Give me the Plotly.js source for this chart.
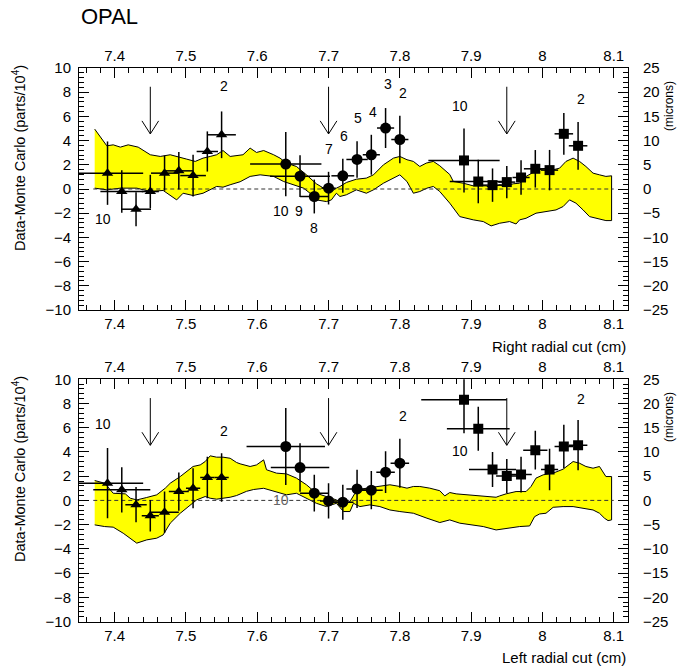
<!DOCTYPE html>
<html>
<head>
<meta charset="utf-8">
<script src="https://cdn.plot.ly/plotly-3.0.1.min.js"></script>
<style>html,body{margin:0;padding:0;background:#fff;}#chart{width:696px;height:669px;}</style>
</head>
<body>
<div id="chart"></div>
<script>
// ---------- data ----------
const xTicks = [7.4, 7.5, 7.6, 7.7, 7.8, 7.9, 8.0, 8.1];
const triX  = [7.39, 7.41, 7.43, 7.45, 7.47, 7.49, 7.51, 7.53, 7.55];
const circX = [7.64, 7.66, 7.68, 7.70, 7.72, 7.74, 7.76, 7.78, 7.80];
const sqX   = [7.89, 7.91, 7.93, 7.95, 7.97, 7.99, 8.01, 8.03, 8.05];

// top panel (right radial cut)
const topTriY  = [1.31, -0.21, -1.67, -0.21, 1.31, 1.50, 1.11, 3.10, 4.48];
const topTriEy = [2.62, 1.75, 1.40, 1.38, 1.45, 1.55, 1.72, 1.66, 1.93];
const topTriEx = [0.05, 0.03, 0.021, 0.012, 0.019, 0.02, 0.018, 0.015, 0.02];
const topCircY  = [2.06, 1.06, -0.62, 0.07, 1.09, 2.44, 2.83, 5.04, 4.09];
const topCircEy = [2.65, 1.72, 1.40, 1.35, 1.40, 1.50, 1.65, 1.65, 1.96];
const topCircEx = [0.05, 0.042, 0.02, 0.01, 0.016, 0.015, 0.012, 0.012, 0.012];
const topSqY  = [2.36, 0.62, 0.32, 0.57, 0.95, 1.67, 1.56, 4.56, 3.57];
const topSqEy = [2.65, 1.80, 1.38, 1.34, 1.42, 1.55, 1.67, 1.72, 1.97];
const topSqEx = [0.05, 0.04, 0.015, 0.012, 0.012, 0.016, 0.012, 0.013, 0.013];

// bottom panel (left radial cut)
const botTriY  = [1.42, 0.87, -0.35, -1.26, -0.98, 0.73, 1.00, 1.89, 1.89];
const botTriEy = [2.90, 1.87, 1.45, 1.30, 1.72, 1.58, 1.65, 1.72, 2.00];
const botTriEx = [0.05, 0.04, 0.015, 0.012, 0.02, 0.014, 0.01, 0.01, 0.01];
const botCircY  = [4.45, 2.71, 0.60, -0.04, -0.15, 0.95, 0.84, 2.33, 3.07];
const botCircEy = [3.17, 2.00, 1.52, 1.45, 1.45, 1.58, 1.58, 1.72, 2.02];
const botCircEx = [0.055, 0.041, 0.02, 0.012, 0.015, 0.015, 0.016, 0.013, 0.013];
const botSqY  = [8.31, 5.91, 2.55, 2.02, 2.13, 4.15, 2.55, 4.45, 4.56];
const botSqEy = [2.76, 1.82, 1.45, 1.40, 1.47, 1.60, 1.72, 1.79, 2.07];
const botSqEx = [0.06, 0.044, 0.033, 0.015, 0.015, 0.017, 0.012, 0.013, 0.013];

// Monte Carlo bands
const topUpX = [7.372,7.389,7.398,7.408,7.419,7.433,7.450,7.464,7.478,7.492,7.501,7.513,7.524,7.534,7.543,7.552,7.562,7.580,7.590,7.599,7.609,7.623,7.632,7.641,7.655,7.669,7.683,7.697,7.704,7.711,7.716,7.725,7.739,7.753,7.763,7.777,7.791,7.800,7.810,7.819,7.828,7.837,7.847,7.856,7.870,7.875,7.889,7.903,7.921,7.928,7.940,7.949,7.959,7.968,7.977,7.987,7.996,8.005,8.015,8.024,8.033,8.043,8.052,8.061,8.071,8.080,8.089,8.097];
const topUp  = [4.95,3.57,3.65,3.46,3.65,3.46,2.83,2.69,2.83,2.64,2.47,2.28,2.55,2.69,2.83,3.18,2.69,2.83,3.38,3.02,3.18,2.83,2.55,2.14,1.86,1.17,0.43,-0.07,-0.21,0.07,0.21,0.54,0.81,0.90,1.17,2.00,2.55,2.69,2.42,2.28,1.86,2.14,2.28,1.92,1.20,0.62,0.48,0.26,0.26,0.07,0.35,0.26,0.43,0.48,1.04,1.37,1.59,1.72,1.59,1.72,2.28,2.55,2.28,1.86,1.31,1.17,1.04,1.09];
const topLoX = [7.372,7.389,7.408,7.431,7.450,7.468,7.487,7.496,7.510,7.524,7.543,7.552,7.562,7.576,7.590,7.604,7.623,7.637,7.651,7.665,7.674,7.683,7.697,7.704,7.711,7.716,7.725,7.739,7.753,7.763,7.777,7.791,7.800,7.810,7.819,7.828,7.838,7.847,7.856,7.870,7.884,7.903,7.917,7.928,7.940,7.954,7.963,7.968,7.977,7.991,8.005,8.019,8.029,8.038,8.047,8.057,8.066,8.080,8.089,8.097];
const topLo  = [0.07,-0.07,0.07,0.07,-0.21,-0.12,-0.90,-0.35,-0.54,-0.35,0.21,0.15,0.35,0.60,1.04,1.17,1.04,0.62,0.35,0.07,-0.35,-0.90,-1.04,-0.90,-0.35,-0.62,-0.48,-0.07,-0.35,-0.07,0.48,0.90,1.17,0.62,-0.35,-0.21,0.07,0.21,-0.21,-1.17,-2.28,-2.55,-2.69,-3.05,-2.83,-2.69,-2.89,-2.55,-2.42,-2.00,-1.86,-1.73,-1.45,-0.90,-1.17,-1.73,-2.28,-2.50,-2.61,-2.61];

const botUpX = [7.372,7.386,7.398,7.415,7.422,7.431,7.445,7.459,7.471,7.478,7.492,7.501,7.510,7.520,7.527,7.534,7.543,7.552,7.562,7.571,7.576,7.590,7.599,7.609,7.613,7.627,7.641,7.655,7.669,7.683,7.697,7.711,7.721,7.730,7.737,7.744,7.753,7.772,7.786,7.800,7.810,7.819,7.828,7.842,7.856,7.863,7.870,7.879,7.898,7.917,7.935,7.940,7.949,7.963,7.977,7.984,7.991,8.001,8.015,8.029,8.043,8.052,8.061,8.071,8.080,8.089,8.097];
const botUp  = [1.64,1.42,0.59,0.54,0.18,0.04,0.24,0.46,1.01,1.42,1.97,2.39,2.80,2.93,3.21,3.68,3.57,3.57,3.48,3.13,3.02,2.80,2.93,3.35,2.53,2.25,2.19,1.84,1.29,0.59,0.32,0.04,-0.24,-0.10,0.59,0.87,1.01,1.15,1.29,1.15,1.01,1.15,1.15,1.01,0.80,0.37,0.65,0.54,0.46,0.37,0.26,0.37,0.54,0.73,0.73,1.15,1.84,2.11,2.25,2.58,3.21,3.07,2.80,2.66,2.80,1.97,1.97];
const botLoX = [7.372,7.386,7.398,7.412,7.431,7.445,7.459,7.468,7.478,7.492,7.506,7.515,7.527,7.534,7.543,7.552,7.562,7.571,7.585,7.595,7.609,7.623,7.641,7.655,7.669,7.683,7.697,7.711,7.721,7.730,7.735,7.744,7.758,7.772,7.786,7.800,7.819,7.838,7.856,7.863,7.870,7.884,7.898,7.917,7.935,7.949,7.968,7.982,7.989,7.996,8.005,8.015,8.029,8.043,8.057,8.071,8.080,8.087,8.092,8.097];
const botLo  = [-2.02,-2.16,-2.21,-2.71,-3.53,-3.26,-3.12,-2.85,-1.88,-1.06,-0.37,0.04,0.32,0.18,0.10,0.18,0.26,0.40,0.75,0.90,1.00,0.73,0.46,0.59,0.18,-0.24,-0.51,-0.24,-0.92,-0.92,-0.24,-0.51,-0.37,-0.51,-0.79,-0.92,-1.06,-1.47,-1.83,-1.74,-1.61,-1.88,-2.02,-2.16,-2.44,-2.30,-2.16,-2.11,-1.34,-1.12,-1.06,-0.57,-0.51,-0.51,-0.65,-0.79,-1.06,-1.47,-1.67,-1.61];

const zeroX = [7.37, 8.10];
const zeroY = [0, 0];

// arrows marking the cut positions
const arrowX = [7.45, 7.70, 7.95];
const arrowTop = 8.45, arrowTip = 4.55, arrowHeadLen = 1.08, arrowHalfW = 0.0117;

// layer labels
const topLabText = ['10','2','10','9','8','7','6','5','4','3','2','10','2'];
const topLabX = [7.384,7.554,7.634,7.659,7.680,7.700,7.721,7.742,7.763,7.783,7.804,7.884,8.054];
const topLabY = [-2.50,8.48,-1.78,-1.78,-3.24,3.30,4.40,5.86,6.36,8.70,7.93,6.88,7.44];
const botLabText = ['10','2','10','2','10','2'];
const botLabX = [7.384,7.553,7.634,7.804,7.884,8.054];
const botLabY = [6.32,5.77,0.04,6.93,4.09,8.39];
const botLabColor = ['#000','#000','#666','#000','#000','#000'];

// ---------- drawing ----------
const FONT = 'Liberation Sans, Arial, Helvetica, sans-serif';
function band(ux, uy, lx, ly, xa, ya) {
  return {x: ux.concat(lx.slice().reverse()), y: uy.concat(ly.slice().reverse()),
    xaxis: xa, yaxis: ya, mode: 'lines', fill: 'toself', fillcolor: '#ffff00',
    line: {color: '#000', width: 1}, hoverinfo: 'skip'};
}
function pts(x, y, ex, ey, sym, size, xa, ya, clip) {
  return {x: x, y: y, xaxis: xa, yaxis: ya, mode: 'markers', cliponaxis: clip,
    marker: {symbol: sym, size: size, color: '#000'},
    error_x: {type: 'data', array: ex, color: '#000', thickness: 1.5, width: 0},
    error_y: {type: 'data', array: ey, color: '#000', thickness: 1.5, width: 0}};
}
function zero(xa, ya) {
  return {x: zeroX, y: zeroY, xaxis: xa, yaxis: ya, mode: 'lines',
    line: {color: '#333', width: 1, dash: '4px,3px'}, hoverinfo: 'skip'};
}
const traces = [
  band(topUpX, topUp, topLoX, topLo, 'x', 'y'), zero('x', 'y'),
  pts(triX, topTriY, topTriEx, topTriEy, 'triangle-up', 10, 'x', 'y', false),
  pts(circX, topCircY, topCircEx, topCircEy, 'circle', 11, 'x', 'y', true),
  pts(sqX, topSqY, topSqEx, topSqEy, 'square', 10, 'x', 'y', true),
  band(botUpX, botUp, botLoX, botLo, 'x3', 'y3'), zero('x3', 'y3'),
  pts(triX, botTriY, botTriEx, botTriEy, 'triangle-up', 10, 'x3', 'y3', false),
  pts(circX, botCircY, botCircEx, botCircEy, 'circle', 11, 'x3', 'y3', true),
  pts(sqX, botSqY, botSqEx, botSqEy, 'square', 10, 'x3', 'y3', true),
  {x: [], y: [], xaxis: 'x2', yaxis: 'y2', mode: 'markers'},
  {x: [], y: [], xaxis: 'x4', yaxis: 'y4', mode: 'markers'}
];

const XD = [79/696, 628/696];
const YTOP = [(669-310)/669, (669-68)/669];
const YBOT = [(669-621.5)/669, (669-379.3)/669];
const tickFont = {family: FONT, size: 15, color: '#000'};
function xAxis(anchor, side, overlay) {
  const a = {domain: XD, range: [7.35, 8.12], anchor: anchor, side: side,
    tickmode: 'linear', tick0: 7.4, dtick: 0.1, ticks: 'inside', ticklen: 10, tickwidth: 1,
    tickcolor: '#000', showline: true, linecolor: '#000', linewidth: 1, showgrid: false,
    zeroline: false, tickfont: tickFont, ticklabelstandoff: 0, fixedrange: true,
    minor: {ticks: 'inside', ticklen: 5, tick0: 7.4, dtick: 0.02, tickcolor: '#000', showgrid: false}};
  if (overlay) a.overlaying = overlay;
  return a;
}
function yAxis(domain, anchor, side, overlay, rng, dt, mdt) {
  const a = {domain: domain, range: rng, anchor: anchor, side: side,
    tickmode: 'linear', tick0: 0, dtick: dt, ticks: 'inside', ticklen: 10, tickwidth: 1,
    tickcolor: '#000', showline: true, linecolor: '#000', linewidth: 1, showgrid: false,
    zeroline: false, tickfont: tickFont, fixedrange: true,
    ticklabelstandoff: side === 'left' ? 4 : 11,
    minor: {ticks: 'inside', ticklen: 5, tick0: 0, dtick: mdt, tickcolor: '#000', showgrid: false}};
  if (overlay) a.overlaying = overlay;
  return a;
}

const annotations = [];
function labels(txt, xs, ys, xa, ya, colors) {
  for (let i = 0; i < txt.length; i++) {
    annotations.push({text: txt[i], x: xs[i], y: ys[i], xref: xa, yref: ya, showarrow: false,
      font: {family: FONT, size: 14, color: colors ? colors[i] : '#000'}, xanchor: 'center', yanchor: 'middle'});
  }
}
labels(topLabText, topLabX, topLabY, 'x', 'y');
labels(botLabText, botLabX, botLabY, 'x3', 'y3', botLabColor);
function paperText(text, xp, yp, size, xanchor, angle) {
  annotations.push({text: text, x: xp/696, y: 1 - yp/669, xref: 'paper', yref: 'paper',
    showarrow: false, font: {family: FONT, size: size, color: '#000'},
    xanchor: xanchor, yanchor: 'middle', textangle: angle || 0});
}
paperText('OPAL', 79, 16, 22, 'left');
paperText('Data-Monte Carlo (parts/10<sup>4</sup>)', 19, 158, 14.5, 'center', -90);
paperText('Data-Monte Carlo (parts/10<sup>4</sup>)', 19, 469, 14.5, 'center', -90);
paperText('(microns)', 669, 106, 12, 'center', -90);
paperText('(microns)', 669, 417, 12, 'center', -90);
paperText('Right radial cut (cm)', 628, 346, 15, 'right');
paperText('Left radial cut (cm)', 628, 657, 15, 'right');

const shapes = [];
function arrows(xa, ya) {
  arrowX.forEach(function (ax) {
    shapes.push({type: 'path', xref: xa, yref: ya, line: {color: '#000', width: 1},
      path: 'M' + ax + ',' + arrowTop + ' L' + ax + ',' + arrowTip +
            ' M' + (ax - arrowHalfW) + ',' + (arrowTip + arrowHeadLen) + ' L' + ax + ',' + arrowTip +
            ' L' + (ax + arrowHalfW) + ',' + (arrowTip + arrowHeadLen)});
  });
}
arrows('x', 'y');
arrows('x3', 'y3');

const layout = {
  width: 696, height: 669, margin: {l: 0, r: 0, t: 0, b: 0},
  paper_bgcolor: '#fff', plot_bgcolor: 'rgba(0,0,0,0)', showlegend: false,
  font: {family: FONT, color: '#000'},
  xaxis: xAxis('y', 'bottom'),
  xaxis2: xAxis('y', 'top', 'x'),
  xaxis3: xAxis('y3', 'bottom'),
  xaxis4: xAxis('y3', 'top', 'x3'),
  yaxis: yAxis(YTOP, 'x', 'left', null, [-10, 10], 2, 0.4),
  yaxis2: yAxis(YTOP, 'x', 'right', 'y', [-25, 25], 5, 1),
  yaxis3: yAxis(YBOT, 'x3', 'left', null, [-10, 10], 2, 0.4),
  yaxis4: yAxis(YBOT, 'x3', 'right', 'y3', [-25, 25], 5, 1),
  annotations: annotations, shapes: shapes
};
Plotly.newPlot('chart', traces, layout, {displayModeBar: false, staticPlot: true});
</script>
</body>
</html>
